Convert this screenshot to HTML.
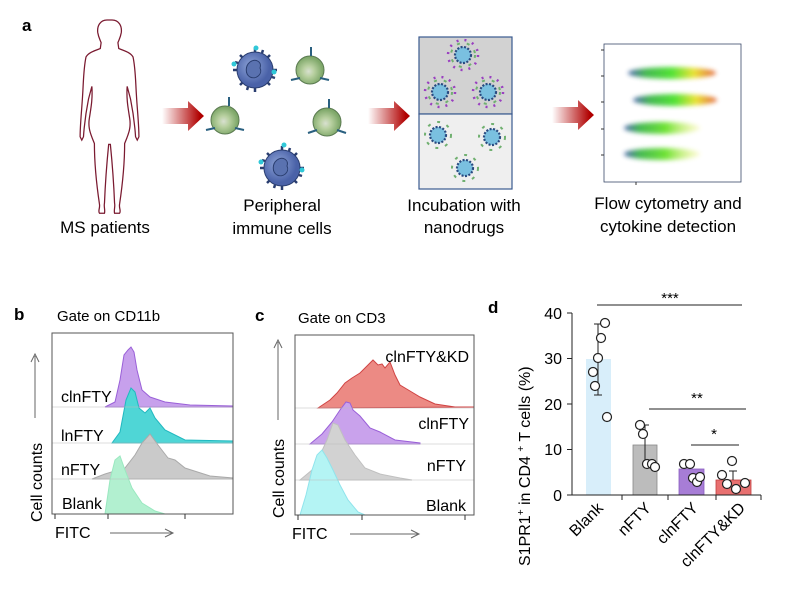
<!DOCTYPE html>
<html><head><meta charset="utf-8"><style>
body{margin:0;background:#fff}
svg{display:block;font-family:"Liberation Sans",Arial,sans-serif}
</style></head><body>
<svg width="800" height="607" viewBox="0 0 800 607" xmlns="http://www.w3.org/2000/svg">
<defs>
<linearGradient id="arr" x1="0" x2="1"><stop offset="0" stop-color="#fff"/><stop offset="0.9" stop-color="#b00000"/></linearGradient>
<linearGradient id="flow" x1="0" x2="1"><stop offset="0" stop-color="#3050a0"/><stop offset="0.2" stop-color="#30b040"/><stop offset="0.5" stop-color="#40e020"/><stop offset="0.75" stop-color="#e8e020"/><stop offset="1" stop-color="#e05020"/></linearGradient>
<linearGradient id="flow2" x1="0" x2="1"><stop offset="0" stop-color="#3050a0"/><stop offset="0.2" stop-color="#30b040"/><stop offset="0.55" stop-color="#60e020"/><stop offset="1" stop-color="#f0f060" stop-opacity="0.3"/></linearGradient>
<filter id="bl"><feGaussianBlur stdDeviation="2.5"/></filter>
<radialGradient id="bc" cx="0.4" cy="0.4"><stop offset="0" stop-color="#8fa5d8"/><stop offset="1" stop-color="#4a62a8"/></radialGradient>
<radialGradient id="gc" cx="0.45" cy="0.55"><stop offset="0" stop-color="#d8e0d0"/><stop offset="0.4" stop-color="#b8d0a0"/><stop offset="1" stop-color="#7fa86a"/></radialGradient>
</defs>

<!-- Panel a -->
<text x="22" y="31" font-size="17" font-weight="bold">a</text>
<path transform="translate(107,20) scale(0.84) translate(-88,-34)" d="M88,34 c-8,0 -12,7 -11,15 c1,6 3,9 4,12 l-1,7 c-8,3 -14,5 -17,10 c-3,14 -3,30 -4,45 c-1,18 -3,35 -3,50 l2,4 l2,-4 c1,-15 3,-30 6,-45 l4,-15 c1,15 -1,25 -3,38 c-2,12 2,20 6,30 c0,20 2,45 6,72 c1,5 -2,8 0,11 l6,0 c1,-4 -1,-8 0,-12 c1,-25 3,-50 5,-70 l2,0 c2,20 4,45 5,70 c1,4 -1,8 0,12 l6,0 c2,-3 -1,-6 0,-11 c4,-27 6,-52 6,-72 c4,-10 8,-18 6,-30 c-2,-13 -4,-23 -3,-38 l4,15 c3,15 5,30 6,45 l2,4 l2,-4 c0,-15 -2,-32 -3,-50 c-1,-15 -1,-31 -4,-45 c-3,-5 -9,-7 -17,-10 l-1,-7 c1,-3 3,-6 4,-12 c1,-8 -3,-15 -11,-15 z" fill="none" stroke="#7a1a30" stroke-width="1.5"/>
<text x="105" y="233" font-size="17" text-anchor="middle">MS patients</text>
<!-- arrows -->
<polygon points="162,108 188,108 188,101 204,116 188,131 188,124 162,124" fill="url(#arr)"/>
<polygon points="368,108 394,108 394,101 410,116 394,131 394,124 368,124" fill="url(#arr)"/>
<polygon points="552,107 578,107 578,100 594,115 578,130 578,123 552,123" fill="url(#arr)"/>
<!-- cells -->
<g stroke="#2a3e70" stroke-width="2.5">
<g transform="translate(255,70)"><path d="M0,-22 V-18 M15,-15 L12,-12 M22,0 H18 M15,15 L12,12 M0,22 V18 M-15,15 L-12,12 M-22,0 H-18 M-15,-15 L-12,-12 M8,-20 L7,-17 M20,8 L17,7 M-8,20 L-7,17 M-20,-8 L-17,-7"/></g>
<g transform="translate(282,168)"><path d="M0,-22 V-18 M15,-15 L12,-12 M22,0 H18 M15,15 L12,12 M0,22 V18 M-15,15 L-12,12 M-22,0 H-18 M-15,-15 L-12,-12 M8,-20 L7,-17 M20,8 L17,7 M-8,20 L-7,17 M-20,-8 L-17,-7"/></g>
</g>
<g stroke="#2a3e70" stroke-width="1">
<circle cx="255" cy="70" r="18" fill="url(#bc)"/><path d="M250,62 c6,-4 12,0 10,6 c3,6 -4,12 -10,9 c-5,-3 -5,-11 0,-15z" fill="#5a72b0"/>
<circle cx="282" cy="168" r="18" fill="url(#bc)"/><path d="M277,160 c6,-4 12,0 10,6 c3,6 -4,12 -10,9 c-5,-3 -5,-11 0,-15z" fill="#5a72b0"/>
<circle cx="310" cy="70" r="14" fill="url(#gc)" stroke="#5a7a50"/>
<circle cx="225" cy="120" r="14" fill="url(#gc)" stroke="#5a7a50"/>
<circle cx="327" cy="122" r="14" fill="url(#gc)" stroke="#5a7a50"/>
</g>
<g stroke="#2a6080" stroke-width="2">
<line x1="300" y1="78" x2="291" y2="80"/><line x1="320" y1="78" x2="329" y2="80"/><line x1="311" y1="56" x2="311" y2="47"/>
<line x1="229" y1="106" x2="229" y2="97"/><line x1="215" y1="128" x2="206" y2="130"/><line x1="235" y1="128" x2="244" y2="130"/>
<line x1="329" y1="108" x2="329" y2="99"/><line x1="317" y1="130" x2="308" y2="133"/><line x1="337" y1="130" x2="346" y2="133"/>
</g>
<g fill="#30c8d8"><circle cx="256" cy="48" r="2.5"/><circle cx="234" cy="64" r="2.5"/><circle cx="274" cy="72" r="2.5"/><circle cx="284" cy="145" r="2.5"/><circle cx="261" cy="162" r="2.5"/><circle cx="302" cy="170" r="2.5"/></g>
<text x="282" y="211" font-size="17" text-anchor="middle">Peripheral</text>
<text x="282" y="234" font-size="17" text-anchor="middle">immune cells</text>
<!-- incubation box -->
<rect x="419" y="37" width="93" height="77" fill="#d2d2d2" stroke="#3a5a90" stroke-width="1.2"/>
<rect x="419" y="114" width="93" height="75" fill="#efefef" stroke="#3a5a90" stroke-width="1.2"/>
<g fill="none" stroke="#9a40c0" stroke-width="2.5" stroke-dasharray="2,6">
<circle cx="463" cy="55" r="15"/><circle cx="440" cy="92" r="15"/><circle cx="488" cy="92" r="15"/>
</g>
<g fill="none" stroke="#70b070" stroke-width="2" stroke-dasharray="3,7">
<circle cx="463" cy="55" r="12"/><circle cx="440" cy="92" r="12"/><circle cx="488" cy="92" r="12"/>
<circle cx="438" cy="135" r="13"/><circle cx="492" cy="137" r="13"/><circle cx="465" cy="168" r="13"/>
</g>
<g fill="#7ac0e0" stroke="#2a4a80" stroke-width="2.2" stroke-dasharray="2,1.5">
<circle cx="463" cy="55" r="8"/><circle cx="440" cy="92" r="8"/><circle cx="488" cy="92" r="8"/>
<circle cx="438" cy="135" r="8"/><circle cx="492" cy="137" r="8"/><circle cx="465" cy="168" r="8"/>
</g>
<text x="464" y="211" font-size="17" text-anchor="middle">Incubation with</text>
<text x="464" y="233" font-size="17" text-anchor="middle">nanodrugs</text>
<!-- flow plot -->
<rect x="604" y="44" width="137" height="138" fill="#fff" stroke="#3a4a6a" stroke-width="0.8"/>
<g filter="url(#bl)" opacity="0.9">
<ellipse cx="672" cy="73" rx="44" ry="6" fill="url(#flow)"/>
<ellipse cx="675" cy="100" rx="42" ry="6" fill="url(#flow)"/>
<ellipse cx="662" cy="128" rx="38" ry="6" fill="url(#flow2)"/>
<ellipse cx="662" cy="154" rx="38" ry="6" fill="url(#flow2)"/>
</g>
<g stroke="#333"><line x1="601" y1="50" x2="604" y2="50"/><line x1="601" y1="76" x2="604" y2="76"/><line x1="601" y1="102" x2="604" y2="102"/><line x1="601" y1="129" x2="604" y2="129"/><line x1="601" y1="155" x2="604" y2="155"/><line x1="636" y1="182" x2="636" y2="185"/></g>
<text x="668" y="209" font-size="17" text-anchor="middle">Flow cytometry and</text>
<text x="668" y="232" font-size="17" text-anchor="middle">cytokine detection</text>

<!-- Panel b -->
<text x="14" y="320" font-size="17" font-weight="bold">b</text>
<text x="57" y="321" font-size="15">Gate on CD11b</text>
<g stroke-width="1">
<path d="M105,407 L115,402 L120,380 L124,355 L128,350 L131,347 L134,352 L137,370 L142,390 L150,397 L165,402 L190,405 L233,406 L233,407 Z" fill="#c7a0ec" stroke="#9a60d8"/>
<path d="M112,443 L120,432 L126,400 L131,388 L135,392 L139,408 L145,413 L150,408 L155,418 L165,430 L185,440 L233,441 L233,443 Z" fill="#4fd6d6" stroke="#20b8c0"/>
<path d="M92,479 L105,474 L125,468 L135,455 L142,443 L150,434 L158,445 L168,458 L175,460 L185,468 L210,476 L233,478 L233,479 Z" fill="#cacaca" stroke="#aaa"/>
<path d="M105,514 L110,480 L115,460 L120,456 L125,470 L132,488 L142,503 L155,511 L165,514 Z" fill="#b2f0d0" stroke="#9ae8c0"/>
</g>
<line x1="52" y1="407" x2="233" y2="407" stroke="#bbb" stroke-width="0.6"/>
<line x1="52" y1="443" x2="233" y2="443" stroke="#bbb" stroke-width="0.6"/>
<line x1="52" y1="479" x2="233" y2="479" stroke="#bbb" stroke-width="0.6"/>
<rect x="52" y="333" width="181" height="181" fill="none" stroke="#555" stroke-width="1"/>
<g stroke="#333"><line x1="55" y1="514" x2="55" y2="519"/><line x1="108" y1="514" x2="108" y2="519"/><line x1="185" y1="514" x2="185" y2="519"/></g>
<text x="61" y="402" font-size="16">clnFTY</text>
<text x="61" y="441" font-size="16">lnFTY</text>
<text x="61" y="475" font-size="16">nFTY</text>
<text x="62" y="509" font-size="16">Blank</text>
<text transform="translate(42,522) rotate(-90)" font-size="16">Cell counts</text>
<line x1="35" y1="418" x2="35" y2="356" stroke="#666"/><path d="M31,362 L35,354 L39,362" fill="none" stroke="#666"/>
<text x="55" y="538" font-size="16">FITC</text>
<line x1="110" y1="533" x2="172" y2="533" stroke="#666"/><path d="M165,529 L173,533 L165,537" fill="none" stroke="#666"/>

<!-- Panel c -->
<text x="255" y="321" font-size="17" font-weight="bold">c</text>
<text x="298" y="323" font-size="15">Gate on CD3</text>
<g stroke-width="1">
<path d="M318,408 L330,400 L337,393 L345,383 L352,378 L360,373 L368,365 L373,360 L378,365 L382,364 L385,368 L390,362 L395,375 L400,385 L410,391 L420,397 L435,404 L455,407 L474,407 Z" fill="#ec8a84" stroke="#d04444"/>
<path d="M310,444 L322,434 L332,422 L340,410 L346,402 L350,403 L353,410 L360,416 L365,422 L370,428 L380,432 L395,440 L420,443 L420,444 Z" fill="#c9a2ec" stroke="#9a60d8"/>
<path d="M300,480 L312,470 L320,455 L327,440 L333,423 L338,425 L345,440 L355,455 L365,468 L380,474 L400,478 L412,480 Z" fill="#d2d2d2" stroke="#c0c0c0"/>
<path d="M300,515 L306,495 L312,470 L317,455 L322,450 L327,458 L333,470 L340,485 L348,500 L358,512 L365,515 Z" fill="#b4f4f4" stroke="#90e4ec"/>
</g>
<line x1="295" y1="408" x2="474" y2="408" stroke="#bbb" stroke-width="0.6"/>
<line x1="295" y1="444" x2="474" y2="444" stroke="#bbb" stroke-width="0.6"/>
<line x1="295" y1="480" x2="474" y2="480" stroke="#bbb" stroke-width="0.6"/>
<rect x="295" y="335" width="179" height="180" fill="none" stroke="#555" stroke-width="1"/>
<g stroke="#333"><line x1="298" y1="515" x2="298" y2="520"/><line x1="362" y1="515" x2="362" y2="520"/><line x1="465" y1="515" x2="465" y2="520"/></g>
<text x="469" y="362" font-size="16" text-anchor="end">clnFTY&amp;KD</text>
<text x="469" y="429" font-size="16" text-anchor="end">clnFTY</text>
<text x="466" y="471" font-size="16" text-anchor="end">nFTY</text>
<text x="466" y="511" font-size="16" text-anchor="end">Blank</text>
<text transform="translate(284,518) rotate(-90)" font-size="16">Cell counts</text>
<line x1="278" y1="420" x2="278" y2="342" stroke="#666"/><path d="M274,348 L278,340 L282,348" fill="none" stroke="#666"/>
<text x="292" y="539" font-size="16">FITC</text>
<line x1="350" y1="534" x2="418" y2="534" stroke="#666"/><path d="M411,530 L419,534 L411,538" fill="none" stroke="#666"/>

<!-- Panel d -->
<text x="488" y="313" font-size="17" font-weight="bold">d</text>
<rect x="586" y="359" width="25" height="136" fill="#d8eefa"/>
<rect x="633" y="445" width="24" height="50" fill="#bcbcbc" stroke="#888" stroke-width="0.8"/>
<rect x="679" y="469" width="25" height="26" fill="#a77dd6" stroke="#8a5cc0" stroke-width="0.8"/>
<rect x="716" y="480" width="35" height="15" fill="#e87070" stroke="#c04040" stroke-width="0.8"/>
<g stroke="#222" stroke-width="1" fill="none">
<path d="M598,359 L598,324 M594,324 L602,324 M598,359 L598,395 M594,395 L602,395"/>
<path d="M645,445 L645,425 M641,425 L649,425 M645,445 L645,465"/>
<path d="M733,480 L733,471 M729,471 L737,471"/>
<path d="M572,313 L572,495 L761,495"/>
<path d="M567,313 L572,313 M567,358.5 L572,358.5 M567,404 L572,404 M567,449.5 L572,449.5 M567,495 L572,495"/>
<path d="M622,495 L622,500 M668,495 L668,500 M716,495 L716,500 M761,495 L761,500"/>
<path d="M597,305 L742,305 M649,409 L746,409 M691,445 L739,445"/>
</g>
<g fill="#fff" stroke="#222" stroke-width="1.2">
<circle cx="605" cy="323" r="4.5"/><circle cx="601" cy="338" r="4.5"/><circle cx="598" cy="358" r="4.5"/><circle cx="593" cy="372" r="4.5"/><circle cx="595" cy="386" r="4.5"/><circle cx="607" cy="417" r="4.5"/>
<circle cx="640" cy="425" r="4.5"/><circle cx="643" cy="434" r="4.5"/><circle cx="647" cy="464" r="4.5"/><circle cx="652" cy="464" r="4.5"/><circle cx="655" cy="467" r="4.5"/>
<circle cx="684" cy="464" r="4.5"/><circle cx="690" cy="464" r="4.5"/><circle cx="693" cy="478" r="4.5"/><circle cx="697" cy="482" r="4.5"/><circle cx="700" cy="477" r="4.5"/>
<circle cx="732" cy="461" r="4.5"/><circle cx="722" cy="475" r="4.5"/><circle cx="727" cy="484" r="4.5"/><circle cx="736" cy="489" r="4.5"/><circle cx="745" cy="483" r="4.5"/>
</g>
<g font-size="16" text-anchor="end">
<text x="562" y="319">40</text><text x="562" y="364">30</text><text x="562" y="410">20</text><text x="562" y="455">10</text><text x="562" y="501">0</text>
</g>
<g font-size="15" text-anchor="middle"><text x="670" y="303">***</text><text x="697" y="403">**</text><text x="714" y="439">*</text></g>
<g font-size="16" text-anchor="end">
<text transform="translate(604,509) rotate(-45)">Blank</text>
<text transform="translate(652,509) rotate(-45)">nFTY</text>
<text transform="translate(699,509) rotate(-45)">clnFTY</text>
<text transform="translate(746,509) rotate(-45)">clnFTY&amp;KD</text>
</g>
<text transform="translate(530,566) rotate(-90)" font-size="16">S1PR1<tspan font-size="10" dy="-6">+</tspan><tspan dy="6"> in CD4 </tspan><tspan font-size="10" dy="-6">+</tspan><tspan dy="6"> T cells (%)</tspan></text>
</svg>
</body></html>
